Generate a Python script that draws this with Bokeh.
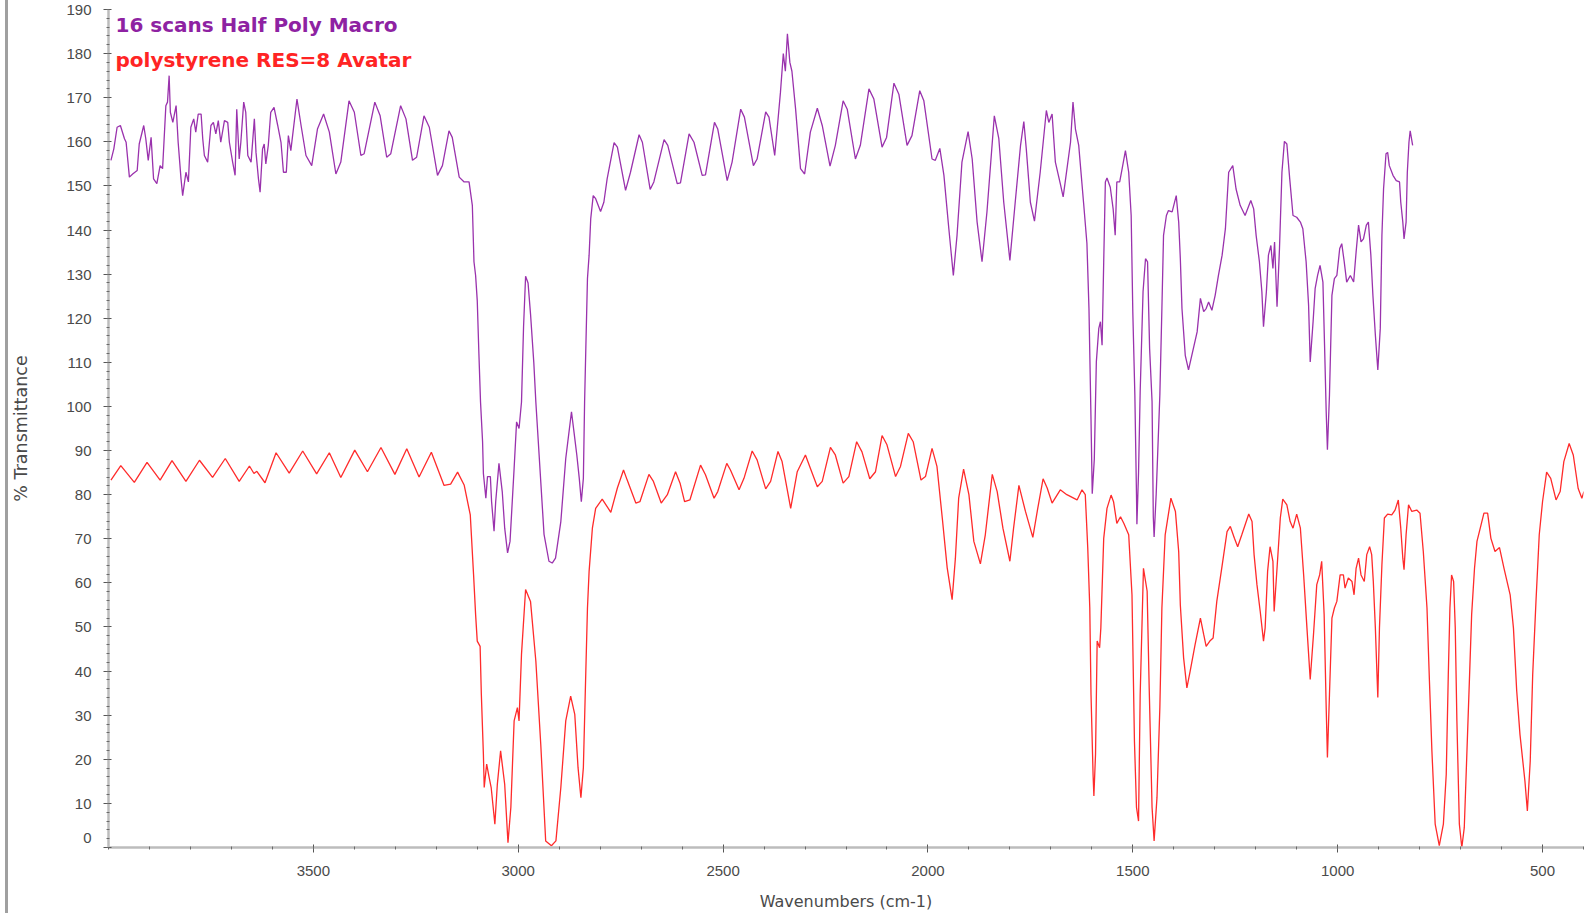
from bokeh.plotting import figure
from bokeh.models import Range1d, FixedTicker, Label, Div
from bokeh.layouts import row
from bokeh.embed import file_html
from bokeh.resources import INLINE

# ---- data (wavenumber cm-1, % transmittance) ----
wn_purple = [3994, 3987, 3979, 3971, 3961, 3957, 3949, 3941, 3930, 3925, 3914, 3909, 3903, 3896, 3890, 3882,
             3874, 3868, 3860, 3856, 3852, 3849, 3843, 3835, 3830, 3823, 3819, 3811, 3805, 3799, 3792, 3787,
             3781, 3774, 3770, 3766, 3758, 3750, 3744, 3738, 3732, 3726, 3717, 3709, 3705, 3697, 3691, 3687,
             3681, 3677, 3670, 3665, 3660, 3652, 3644, 3640, 3634, 3630, 3624, 3620, 3616, 3610, 3604, 3596,
             3587, 3579, 3573, 3566, 3561, 3555, 3540, 3530, 3518, 3504, 3490, 3475, 3461, 3445, 3433, 3413,
             3400, 3384, 3376, 3350, 3337, 3321, 3311, 3287, 3274, 3258, 3248, 3230, 3217, 3197, 3185, 3169,
             3161, 3144, 3132, 3120, 3112, 3108, 3104, 3100, 3096, 3092, 3087, 3085, 3079, 3075, 3068, 3065,
             3059, 3055, 3047, 3039, 3033, 3026, 3020, 3010, 3004, 2998, 2992, 2987, 2982, 2976, 2970, 2962,
             2957, 2947, 2937, 2925, 2917, 2909, 2896, 2884, 2870, 2864, 2857, 2851, 2846, 2841, 2838, 2835,
             2831, 2827, 2823, 2817, 2811, 2799, 2791, 2783, 2766, 2758, 2738, 2726, 2705, 2697, 2678, 2669,
             2644, 2635, 2612, 2604, 2583, 2571, 2551, 2543, 2521, 2513, 2490, 2478, 2457, 2448, 2426, 2417,
             2396, 2388, 2374, 2368, 2360, 2353, 2348, 2343, 2337, 2332, 2323, 2311, 2301, 2287, 2270, 2258, 2239,
             2226, 2207, 2197, 2177, 2165, 2144, 2132, 2112, 2101, 2083, 2071, 2051, 2039, 2020, 2010, 1990,
             1982, 1971, 1961, 1949, 1938, 1929, 1917, 1902, 1892, 1880, 1868, 1856, 1838, 1827, 1815, 1800,
             1787, 1774, 1766, 1760, 1750, 1740, 1726, 1711, 1705, 1697, 1689, 1677, 1670, 1665, 1652, 1646,
             1640, 1632, 1620, 1612, 1607, 1602, 1599, 1594, 1589, 1583, 1579, 1575, 1571, 1567, 1563, 1555,
             1548, 1543, 1539, 1532, 1526, 1518, 1510, 1504, 1500, 1495, 1491, 1490, 1486, 1482, 1475, 1469,
             1464, 1459, 1453, 1450, 1448, 1443, 1434, 1429, 1425, 1418, 1413, 1404, 1394, 1388, 1384, 1380,
             1372, 1364, 1356, 1343, 1335, 1327, 1321, 1315, 1307, 1299, 1291, 1282, 1274, 1266, 1256, 1248,
             1238, 1226, 1212, 1205, 1199, 1191, 1185, 1181, 1174, 1169, 1163, 1158, 1154, 1148, 1142, 1136,
             1130, 1124, 1117, 1109, 1100, 1091, 1085, 1077, 1071, 1067, 1060, 1055, 1049, 1043, 1036, 1032,
             1028, 1025, 1020, 1014, 1008, 1002, 995, 990, 984, 978, 969, 961, 955, 949, 943, 937,
             930, 925, 919, 914, 908, 902, 896, 892, 888, 882, 878, 874, 865, 857, 849, 846,
             841, 838, 833, 830, 826, 823, 817]
t_purple = [155.8, 158.4, 163.3, 163.7, 160.7, 159.9, 152.0, 152.7, 153.5, 159.5, 163.7, 160.7, 155.8, 161.0, 151.6, 150.5,
            154.6, 153.9, 168.2, 169.0, 175.0, 166.7, 164.4, 168.2, 159.9, 151.6, 147.8, 153.1, 150.9, 163.3, 165.2, 162.2,
            166.3, 166.3, 160.7, 156.9, 155.4, 163.7, 164.4, 161.8, 164.8, 159.9, 164.8, 164.4, 159.9, 155.4, 152.4, 167.4,
            156.1, 159.9, 169.0, 166.7, 156.9, 155.4, 165.2, 157.6, 151.6, 148.6, 158.4, 159.5, 155.0, 159.2, 166.7, 167.8,
            163.7, 159.9, 153.1, 153.1, 161.4, 158.0, 169.7, 163.7, 156.9, 154.6, 162.9, 166.3, 162.2, 152.7, 155.4, 169.3,
            166.7, 156.9, 157.3, 169.0, 165.9, 156.5, 157.3, 168.2, 165.2, 155.8, 156.5, 165.9, 163.3, 152.4, 154.6, 162.5,
            161.0, 152.0, 150.9, 150.9, 145.6, 132.8, 129.7, 124.0, 112.0, 101.0, 92.0, 84.8, 79.2, 84.1, 84.1, 78.4,
            71.7, 78.4, 87.1, 80.7, 72.4, 66.8, 69.4, 86.0, 96.5, 95.0, 101.0, 118.0, 129.5, 128.0, 121.0, 110.0,
            101.0, 86.0, 71.0, 64.9, 64.5, 65.6, 73.9, 88.2, 98.8, 94.3, 89.0, 83.7, 78.4, 83.7, 101.0, 113.2,
            129.0, 134.3, 142.6, 147.8, 147.1, 144.2, 146.3, 151.6, 159.8, 158.8, 149.0, 153.1, 161.6, 159.9, 149.2, 150.9,
            160.5, 159.2, 150.5, 150.7, 161.8, 159.9, 152.4, 152.5, 164.4, 162.9, 151.2, 155.4, 167.4, 165.6, 154.6, 156.1,
            166.8, 165.6, 156.9, 162.9, 171.2, 180.0, 176.0, 184.5, 178.0, 176.0, 167.4, 153.9, 152.7, 162.2, 167.6, 163.7, 154.5,
            159.2, 169.3, 167.4, 156.1, 159.2, 172.0, 169.7, 158.8, 161.0, 173.3, 170.8, 159.2, 161.4, 171.6, 169.3, 156.1,
            155.8, 158.5, 152.4, 140.3, 129.7, 138.8, 155.4, 162.3, 156.1, 141.8, 132.8, 144.1, 165.9, 160.7, 146.3, 133.1,
            146.3, 159.2, 164.6, 158.4, 146.3, 142.0, 153.1, 167.1, 164.4, 166.3, 155.4, 150.5, 147.5, 150.9, 159.9, 169.0,
            162.9, 159.2, 146.0, 137.0, 122.2, 97.0, 80.2, 88.0, 110.1, 117.7, 119.2, 113.9, 132.8, 150.9, 151.8, 149.7,
            144.8, 138.8, 150.9, 150.9, 153.9, 158.0, 153.1, 143.3, 121.4, 102.6, 80.0, 73.3, 85.0, 103.4, 126.0, 133.5,
            132.8, 113.2, 101.1, 75.0, 70.4, 80.0, 102.6, 122.2, 138.8, 143.3, 144.4, 144.1, 147.8, 141.8, 133.5, 122.2,
            111.6, 108.3, 111.6, 116.9, 124.5, 121.5, 122.2, 123.7, 121.8, 125.2, 129.7, 134.3, 140.3, 153.1, 154.6, 149.3,
            145.6, 143.3, 146.7, 144.8, 138.8, 132.8, 126.0, 118.1, 126.0, 134.3, 136.5, 131.3, 137.3, 122.6, 135.8, 153.1,
            160.1, 159.5, 151.6, 143.3, 142.9, 141.8, 140.3, 132.8, 123.0, 110.1, 119.2, 126.7, 129.7, 132.0, 128.2, 113.9,
            98.8, 90.2, 102.6, 125.2, 129.0, 129.7, 135.8, 136.9, 132.8, 128.2, 129.7, 128.2, 135.0, 141.1, 137.3, 138.0,
            141.1, 141.8, 134.3, 125.2, 116.2, 108.3, 117.7, 138.8, 149.3, 157.3, 157.6, 154.6, 152.4, 151.2, 150.9, 146.3,
            141.8, 138.0, 141.8, 153.1, 159.9, 162.5, 159.2]

wn_red = [3994, 3970, 3937, 3906, 3874, 3845, 3811, 3778, 3746, 3715, 3681, 3656, 3645, 3638, 3618, 3591,
          3559, 3526, 3492, 3461, 3433, 3399, 3368, 3335, 3301, 3272, 3242, 3212, 3181, 3165, 3148, 3132,
          3117, 3109, 3104, 3100, 3093, 3090, 3085, 3083, 3077, 3071, 3066, 3057, 3051, 3043, 3033, 3025,
          3018, 3010, 3002, 2998, 2992, 2982, 2970, 2957, 2945, 2933, 2919, 2908, 2896, 2884, 2872, 2862,
          2854, 2847, 2841, 2835, 2831, 2827, 2819, 2811, 2795, 2774, 2758, 2743, 2734, 2713, 2703, 2681,
          2670, 2651, 2636, 2616, 2605, 2594, 2581, 2555, 2543, 2522, 2513, 2491, 2482, 2461, 2449, 2429,
          2417, 2396, 2384, 2366, 2356, 2335, 2319, 2299, 2287, 2270, 2258, 2238, 2226, 2207, 2193, 2174,
          2161, 2142, 2128, 2112, 2100, 2079, 2067, 2048, 2036, 2017, 2006, 1990, 1978, 1965, 1953, 1941,
          1933, 1925, 1913, 1900, 1888, 1872, 1860, 1843, 1831, 1817, 1800, 1791, 1778, 1762, 1744, 1732,
          1719, 1709, 1697, 1677, 1661, 1636, 1624, 1616, 1610, 1605, 1602, 1597, 1595, 1591, 1587, 1581,
          1578, 1571, 1563, 1553, 1547, 1539, 1530, 1522, 1510, 1502, 1496, 1491, 1486, 1482, 1474, 1465,
          1460, 1453, 1448, 1441, 1434, 1429, 1421, 1407, 1396, 1388, 1384, 1376, 1368, 1360, 1348, 1335,
          1327, 1321, 1312, 1304, 1295, 1283, 1270, 1262, 1252, 1244, 1234, 1217, 1209, 1204, 1197, 1189,
          1181, 1177, 1171, 1165, 1158, 1155, 1148, 1140, 1134, 1124, 1116, 1109, 1100, 1091, 1083, 1075,
          1067, 1059, 1051, 1044, 1039, 1033, 1028, 1025, 1020, 1014, 1008, 1002, 994, 986, 982, 974,
          965, 960, 955, 949, 943, 935, 929, 922, 917, 913, 908, 904, 902, 898, 892, 886,
          878, 868, 860, 852, 846, 841, 838, 833, 827, 819, 807, 799, 791, 782, 776, 770,
          762, 752, 742, 735, 730, 726, 722, 717, 713, 709, 703, 697, 691, 685, 678, 673,
          666, 660, 652, 643, 634, 626, 616, 605, 594, 579, 571, 563, 555, 543, 537, 530,
          524, 516, 508, 500, 490, 480, 467, 457, 448, 435, 425, 413, 404, 399]
t_red = [83.3, 86.6, 82.8, 87.3, 83.3, 87.7, 83.0, 87.8, 83.9, 88.2, 83.0, 86.5, 84.8, 85.3, 82.7, 89.5,
         84.9, 89.9, 84.7, 89.5, 83.9, 90.1, 85.2, 90.7, 84.6, 90.4, 84.0, 89.6, 82.1, 82.4, 85.1, 82.2,
         75.4, 61.9, 52.8, 46.8, 45.6, 34.7, 21.1, 13.6, 18.9, 15.9, 13.6, 5.3, 14.3, 21.9, 14.3, 1.1,
         9.1, 28.7, 31.7, 28.7, 43.8, 58.5, 55.8, 42.3, 23.4, 1.5, 0.4, 1.5, 13.6, 28.7, 34.3, 30.2,
         18.1, 11.3, 18.1, 40.0, 54.3, 62.6, 72.4, 76.9, 79.0, 76.0, 81.5, 85.6, 83.3, 78.1, 78.4, 84.6,
         83.0, 78.1, 80.0, 85.2, 82.6, 78.4, 78.8, 86.7, 84.5, 79.2, 80.7, 87.1, 85.6, 81.1, 83.7, 89.9,
         87.9, 81.3, 83.0, 89.8, 87.5, 76.9, 85.2, 89.0, 86.0, 81.8, 83.0, 90.7, 89.0, 82.6, 84.1, 92.0,
         89.7, 83.6, 85.2, 93.4, 91.3, 84.1, 86.4, 93.9, 92.0, 83.3, 84.1, 90.5, 86.4, 74.7, 63.4, 56.2,
         65.6, 79.2, 85.8, 80.0, 69.4, 64.3, 70.9, 84.6, 80.7, 72.4, 64.9, 72.4, 82.1, 76.2, 70.3, 76.9,
         83.6, 81.5, 78.1, 81.1, 80.0, 78.8, 81.1, 80.0, 68.0, 54.3, 34.7, 16.6, 11.7, 21.1, 46.8, 45.3,
         49.8, 70.1, 76.9, 79.9, 78.4, 73.5, 75.0, 73.5, 70.9, 57.3, 24.1, 9.1, 6.0, 34.7, 63.3, 58.1,
         36.2, 9.1, 1.5, 11.3, 31.7, 54.3, 70.9, 79.2, 76.2, 67.1, 55.0, 43.0, 36.2, 40.0, 46.0, 52.0,
         48.3, 45.6, 46.8, 47.5, 55.8, 63.3, 71.6, 72.8, 70.1, 68.2, 70.9, 75.6, 73.9, 66.4, 59.6, 53.5,
         46.8, 49.8, 62.6, 68.2, 64.9, 53.5, 63.3, 74.7, 79.0, 77.7, 73.9, 72.4, 75.6, 72.4, 61.8, 49.8,
         38.1, 48.3, 59.6, 61.8, 64.9, 52.8, 31.7, 20.4, 34.7, 52.0, 54.3, 55.8, 61.8, 61.8, 58.8, 61.1,
         60.3, 57.3, 63.3, 65.6, 61.8, 60.3, 66.4, 68.2, 66.4, 60.3, 49.8, 39.2, 34.0, 49.8, 64.1, 74.7,
         75.6, 75.4, 76.5, 78.8, 72.4, 65.6, 63.0, 70.9, 77.7, 76.2, 76.5, 75.8, 67.1, 54.3, 37.7, 21.9,
         5.3, 0.4, 5.3, 16.6, 39.2, 54.3, 61.8, 60.3, 49.8, 28.7, 5.3, 0.0, 4.5, 20.4, 39.2, 52.8,
         63.3, 69.4, 72.4, 75.8, 75.8, 70.1, 67.1, 68.0, 63.3, 57.3, 49.8, 35.5, 25.6, 15.1, 8.3, 19.6,
         39.2, 55.8, 70.9, 78.4, 85.1, 83.7, 78.8, 80.7, 87.5, 91.6, 89.0, 81.4, 79.2, 80.7]

series_names = ["16 scans Half Poly Macro", "polystyrene RES=8 Avatar"]
x_major = [3500, 3000, 2500, 2000, 1500, 1000, 500]
x_minor = list(range(400, 4001, 100))
y_major = list(range(0, 191, 10))
y_minor = list(range(0, 191, 2))

PURPLE_LINE = "#9a32ad"
PURPLE_TEXT = "#8e22a2"
RED_LINE = "#ff2b2b"
RED_TEXT = "#ff2424"
TICK_TEXT = "#4a4a4a"

p = figure(width=1583, height=913,
           x_range=Range1d(4000, 400), y_range=Range1d(0, 190),
           output_backend="svg", toolbar_location=None,
           min_border_left=100, min_border_right=8,
           min_border_top=9, min_border_bottom=66,
           background_fill_color="white", border_fill_color="white",
           margin=0)
p.outline_line_color = None
p.grid.visible = False

p.line(wn_purple, t_purple, line_color=PURPLE_LINE, line_width=1.3)
p.line(wn_red, t_red, line_color=RED_LINE, line_width=1.3)

for ax in (p.xaxis[0], p.yaxis[0]):
    ax.axis_line_color = "#bcbcbc"
    ax.axis_line_width = 2.5
    ax.major_tick_line_color = "#555555"
    ax.major_tick_in = 3
    ax.major_tick_out = 5
    ax.minor_tick_line_color = "#6a6a6a"
    ax.minor_tick_in = 1
    ax.minor_tick_out = 2
    ax.major_label_text_font = "Liberation Sans"
    ax.major_label_text_font_size = "15px"
    ax.major_label_text_color = TICK_TEXT
    ax.axis_label_text_font = "DejaVu Sans"
    ax.axis_label_text_font_style = "normal"
    ax.axis_label_text_color = TICK_TEXT

p.xaxis.ticker = FixedTicker(ticks=x_major, minor_ticks=x_minor)
p.yaxis.ticker = FixedTicker(ticks=y_major, minor_ticks=y_minor)
# the bottom label is lifted above the x axis, as the original software draws it
p.yaxis.major_label_overrides = {0: "0\n"}
p.xaxis.axis_label = "Wavenumbers (cm-1)"
p.yaxis.axis_label = "% Transmittance"
p.xaxis.axis_label_text_font_size = "16px"
p.yaxis.axis_label_text_font_size = "17.5px"
p.xaxis.major_label_standoff = 13
p.xaxis.axis_label_standoff = 13
p.yaxis.major_label_standoff = 12
p.yaxis.axis_label_standoff = 32

p.add_layout(Label(x=3983, y=186.4, text=series_names[0], text_color=PURPLE_TEXT,
                   text_font="DejaVu Sans", text_font_style="bold", text_font_size="20px",
                   text_baseline="middle", text_align="left"))
p.add_layout(Label(x=3983, y=178.5, text=series_names[1], text_color=RED_TEXT,
                   text_font="DejaVu Sans", text_font_style="bold", text_font_size="20px",
                   text_baseline="middle", text_align="left"))

# grey window border on the far left of the original screenshot
bar = Div(text="", width=3, height=913, margin=(0, 0, 0, 5),
          styles={"background-color": "#a0a0a0"})
layout = row(bar, p, margin=0, spacing=0)

open("out.html", "w").write(file_html(layout, INLINE))
